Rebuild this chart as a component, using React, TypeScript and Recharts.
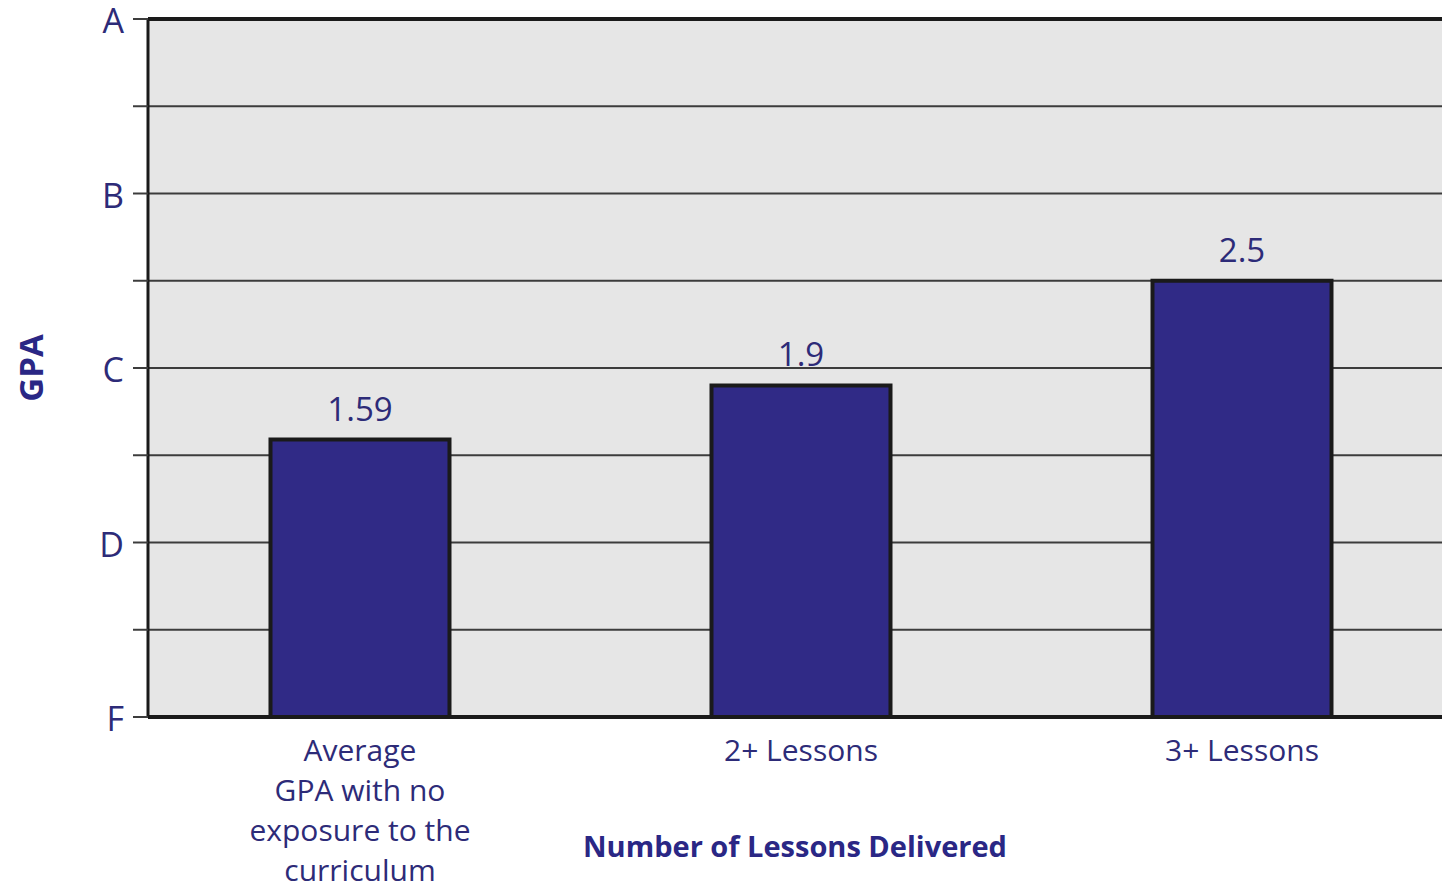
import React from 'react';
import { BarChart, Bar, XAxis, YAxis, CartesianGrid, ReferenceLine, LabelList } from 'recharts';

// lesson groups, one entry per bar (label lines as printed under the axis)
const groupLines: string[][] = [
  ['Average', 'GPA with no', 'exposure to the', 'curriculum'],
  ['2+ Lessons'],
  ['3+ Lessons'],
];
const gpaValues = [1.59, 1.9, 2.5];

const gpaTicks = [0, 0.5, 1, 1.5, 2, 2.5, 3, 3.5, 4];
const gradeLetters: Record<number, string> = { 0: 'F', 1: 'D', 2: 'C', 3: 'B', 4: 'A' };

const rows = gpaValues.map((gpa, i) => ({ pos: i, gpa }));

const TEXT = '#2d2b78';
const BAR = '#302a86';
const FONT = '"Open Sans", "Noto Sans", sans-serif';

const GroupTick = (props: any) => {
  const { x, payload } = props;
  const lines = groupLines[payload.value] || [];
  return (
    <text x={x} y={761} textAnchor="middle" fill={TEXT} fontSize={30} fontFamily={FONT}>
      {lines.map((ln, i) => (
        <tspan key={i} x={x} dy={i === 0 ? 0 : 40}>
          {ln}
        </tspan>
      ))}
    </text>
  );
};

const GpaTitle = (props: any) => {
  const vb = props.viewBox || { x: 0, y: 0, height: 0 };
  const cy = vb.y + vb.height / 2;
  return (
    <text
      x={43}
      y={cy}
      transform={`rotate(-90, 43, ${cy})`}
      textAnchor="middle"
      fill="#2a2785"
      fontSize={33}
      fontWeight={700}
      fontFamily={FONT}
    >
      GPA
    </text>
  );
};

export default function App() {
  return (
    <div style={{ position: 'absolute', left: 0, top: 0, width: 1442, height: 888, background: '#fff' }}>
      <BarChart width={1442} height={888} data={rows} margin={{ top: 19, right: 0, bottom: 0, left: 0 }}>
        <CartesianGrid vertical={false} stroke="#3c3c3c" strokeWidth={2} fill="#e6e6e6" fillOpacity={1} />
        <XAxis
          type="number"
          dataKey="pos"
          domain={[-0.4807, 2.4535]}
          allowDataOverflow
          ticks={[0, 1, 2]}
          height={171}
          tickLine={false}
          axisLine={{ stroke: '#1a1a1a', strokeWidth: 4 }}
          tick={<GroupTick />}
          label={{
            value: 'Number of Lessons Delivered',
            position: 'insideBottom',
            offset: 31,
            fill: '#2a2785',
            fontSize: 29,
            fontWeight: 700,
            fontFamily: FONT,
          }}
        />
        <YAxis
          type="number"
          domain={[0, 4]}
          ticks={gpaTicks}
          interval={0}
          width={148}
          tickSize={15}
          tickMargin={9}
          tickLine={{ stroke: '#3c3c3c', strokeWidth: 2 }}
          axisLine={{ stroke: '#1a1a1a', strokeWidth: 3 }}
          tickFormatter={(v: number) => gradeLetters[v] ?? ''}
          tick={{ fill: TEXT, fontSize: 34, fontFamily: FONT, dy: 2 }}
          label={{ content: <GpaTitle /> }}
        />
        <ReferenceLine y={4} stroke="#1a1a1a" strokeWidth={4} />
        <Bar dataKey="gpa" fill={BAR} stroke="#1a1a1a" strokeWidth={4} barSize={179} isAnimationActive={false}>
          <LabelList dataKey="gpa" position="top" offset={19} fill={TEXT} fontSize={33} fontFamily={FONT} />
        </Bar>
      </BarChart>
    </div>
  );
}
